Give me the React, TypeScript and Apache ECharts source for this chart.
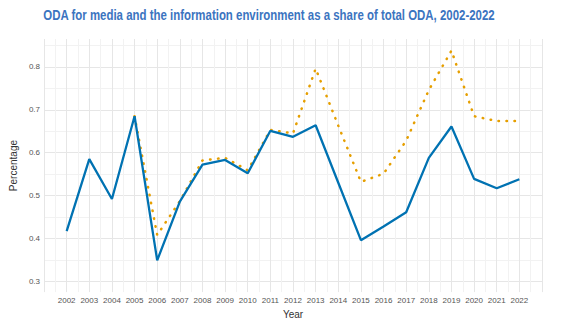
import React, { useEffect, useRef } from "react";
import * as echarts from "echarts";

const years = [2002, 2003, 2004, 2005, 2006, 2007, 2008, 2009, 2010, 2011, 2012, 2013, 2014, 2015, 2016, 2017, 2018, 2019, 2020, 2021, 2022];
const blueValues = [0.417, 0.585, 0.492, 0.685, 0.349, 0.486, 0.572, 0.583, 0.552, 0.651, 0.637, 0.664, 0.53, 0.396, 0.428, 0.461, 0.588, 0.661, 0.539, 0.517, 0.538];
const orangeYears = [2005, 2006, 2007, 2008, 2009, 2010, 2011, 2012, 2013, 2014, 2015, 2016, 2017, 2018, 2019, 2020, 2021, 2022];
const orangeValues = [0.685, 0.408, 0.487, 0.582, 0.588, 0.559, 0.653, 0.645, 0.796, 0.663, 0.532, 0.551, 0.628, 0.746, 0.838, 0.685, 0.674, 0.674];

const titleText = "ODA for media and the information environment as a share of total ODA, 2002-2022";

export default function App() {
  const ref = useRef<HTMLDivElement>(null);
  useEffect(() => {
    if (!ref.current) return;
    const chart = echarts.init(ref.current, null, { renderer: "svg" });
    const major = "#e6e6e6";
    const minor = "#f2f2f2";
    const titleFont = 'bold 15px "Liberation Sans"';
    let titleW = 600;
    try {
      const ctx = document.createElement("canvas").getContext("2d");
      if (ctx) {
        ctx.font = titleFont;
        titleW = ctx.measureText(titleText).width;
      }
    } catch (e) {}
    const sx = 452 / titleW;
    chart.setOption({
      animation: false,
      backgroundColor: "#ffffff",
      graphic: [
        {
          type: "text",
          x: 269,
          y: 7,
          scaleX: sx,
          scaleY: 1,
          style: {
            text: titleText,
            fill: "#3b74c0",
            font: titleFont,
            align: "center",
            verticalAlign: "top",
          },
        },
      ],
      grid: { left: 35, right: 32, top: 39, bottom: 29, containLabel: false },
      xAxis: {
        type: "value",
        min: 2001,
        max: 2023,
        interval: 0.5,
        name: "Year",
        nameLocation: "middle",
        nameGap: 11,
        nameTextStyle: { color: "#333", fontSize: 10, fontFamily: "Liberation Sans", verticalAlign: "top" },
        axisLine: { show: false },
        axisTick: { show: false },
        axisLabel: {
          color: "#555",
          fontSize: 8,
          margin: 4,
          fontFamily: "Liberation Sans",
          formatter: (v: number) =>
            Math.abs(v - Math.round(v)) < 1e-6 && v >= 2002 && v <= 2022 ? String(Math.round(v)) : "",
        },
        splitLine: { show: true, lineStyle: { color: [major, minor], width: 1 } },
      },
      yAxis: {
        type: "value",
        min: 0.275,
        max: 0.865,
        interval: 0.025,
        name: "Percentage",
        nameLocation: "middle",
        nameGap: 16,
        nameTextStyle: { color: "#333", fontSize: 10, fontFamily: "Liberation Sans" },
        axisLine: { show: false },
        axisTick: { show: false },
        axisLabel: {
          color: "#555",
          fontSize: 8,
          margin: 4,
          fontFamily: "Liberation Sans",
          formatter: (v: number) =>
            Math.abs(v * 10 - Math.round(v * 10)) < 1e-6 ? v.toFixed(1) : "",
        },
        splitLine: { show: true, lineStyle: { color: ["rgba(0,0,0,0)", major, "rgba(0,0,0,0)", minor], width: 1 } },
      },
      series: [
        {
          type: "line",
          data: orangeYears.map((y, i) => [y, orangeValues[i]]),
          symbol: "none",
          z: 2,
          lineStyle: { color: "#e69f00", width: 2.5, type: [0.5, 7.5], cap: "round" },
        },
        {
          type: "line",
          data: years.map((y, i) => [y, blueValues[i]]),
          symbol: "none",
          z: 3,
          lineStyle: { color: "#0072b2", width: 2.3 },
        },
      ],
    });
    return () => chart.dispose();
  }, []);
  return <div ref={ref} style={{ position: "fixed", left: 0, top: 0, width: 574, height: 324 }} />;
}
